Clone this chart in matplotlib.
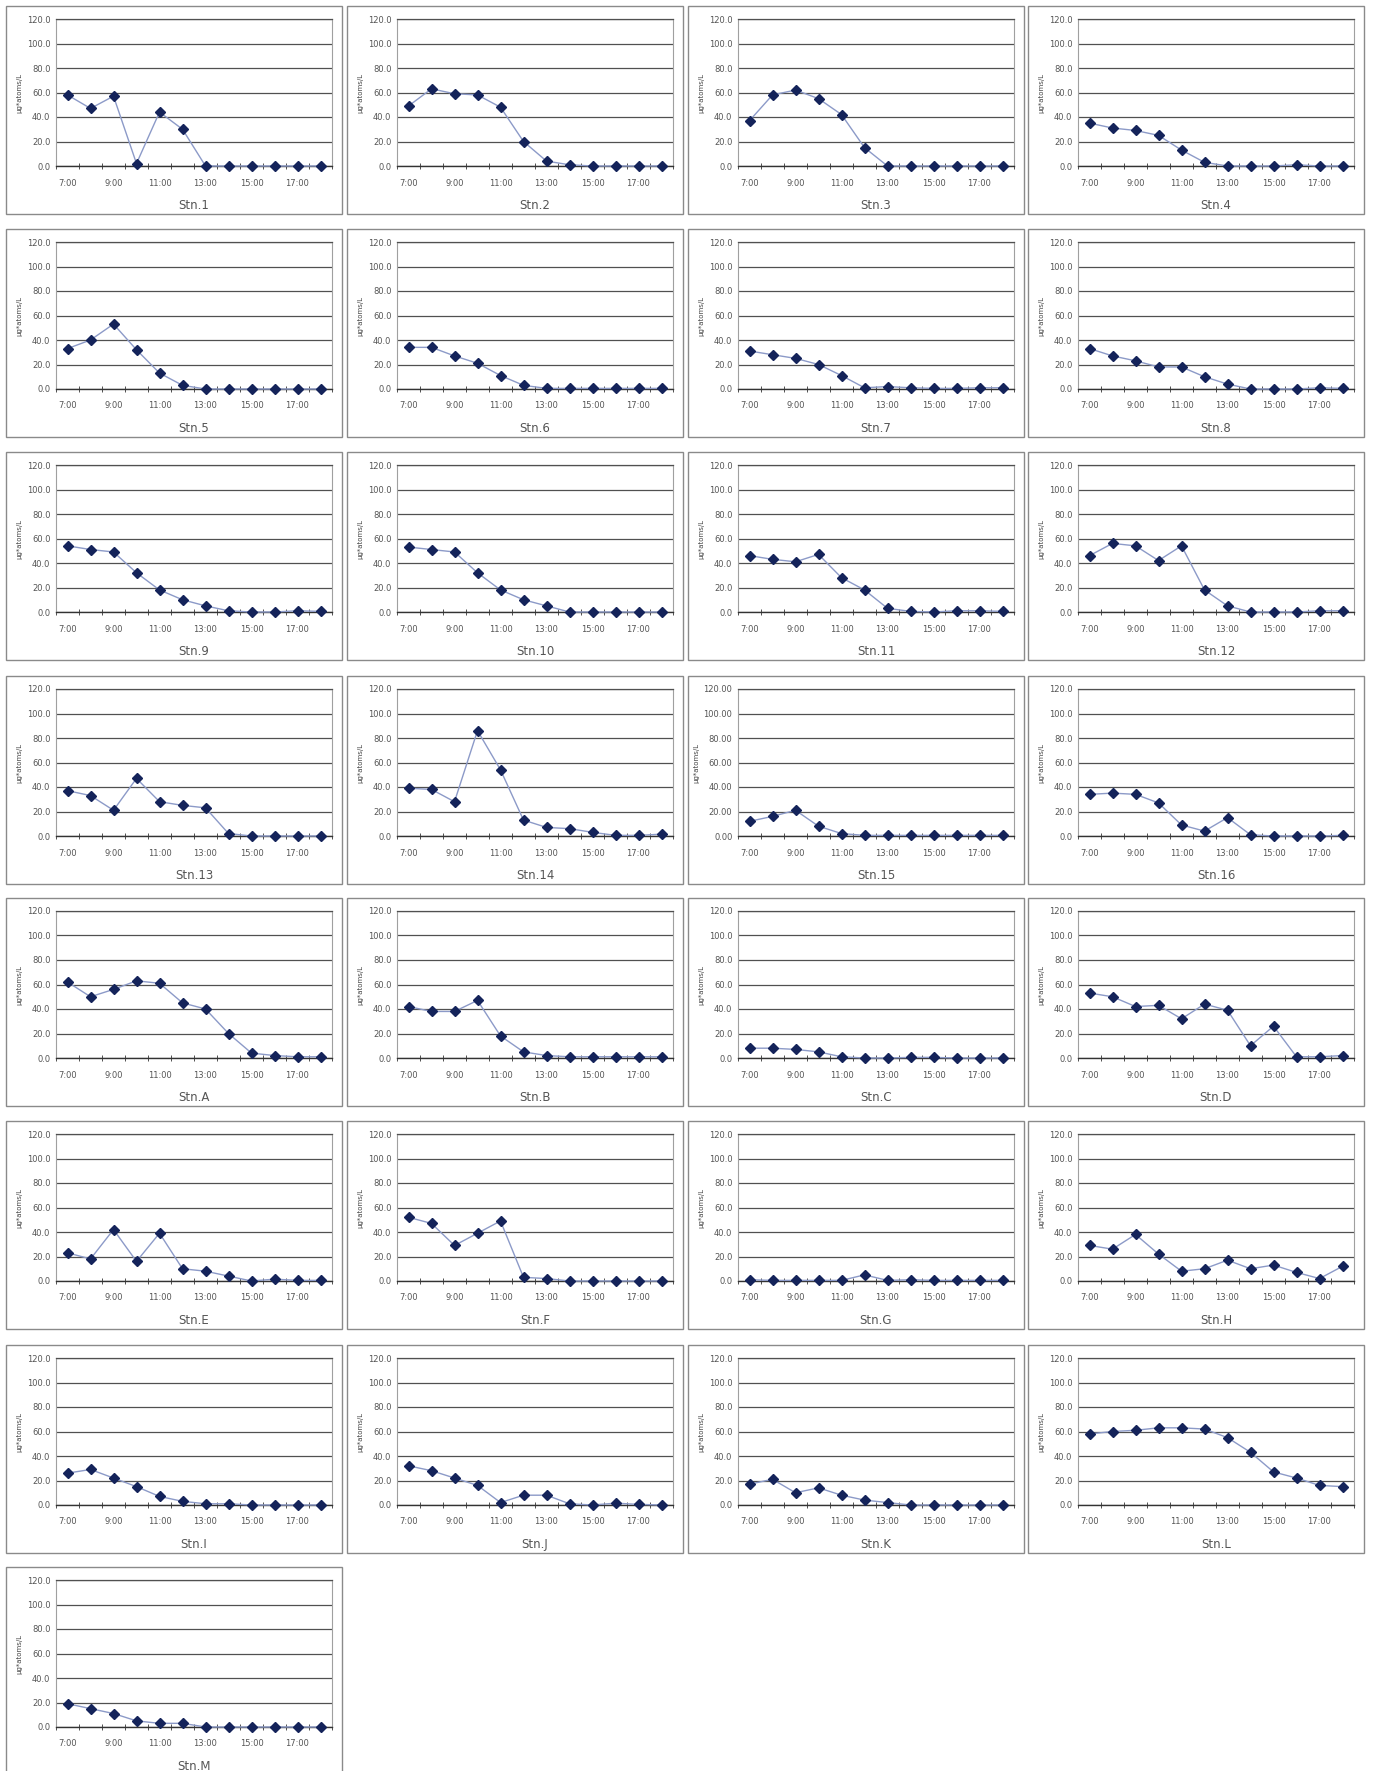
import numpy as np
import matplotlib.pyplot as plt
from matplotlib.patches import Rectangle

# sampling hours 7:00 .. 18:00
hours = ['7:00', '8:00', '9:00', '10:00', '11:00', '12:00',
         '13:00', '14:00', '15:00', '16:00', '17:00', '18:00']

stations = ['Stn.1', 'Stn.2', 'Stn.3', 'Stn.4',
            'Stn.5', 'Stn.6', 'Stn.7', 'Stn.8',
            'Stn.9', 'Stn.10', 'Stn.11', 'Stn.12',
            'Stn.13', 'Stn.14', 'Stn.15', 'Stn.16',
            'Stn.A', 'Stn.B', 'Stn.C', 'Stn.D',
            'Stn.E', 'Stn.F', 'Stn.G', 'Stn.H',
            'Stn.I', 'Stn.J', 'Stn.K', 'Stn.L',
            'Stn.M']

stn_1 = [58, 47, 57, 2, 44, 30, 0, 0, 0, 0, 0, 0]
stn_2 = [49, 63, 59, 58, 48, 20, 4, 1, 0, 0, 0, 0]
stn_3 = [37, 58, 62, 55, 42, 15, 0, 0, 0, 0, 0, 0]
stn_4 = [35, 31, 29, 25, 13, 3, 0, 0, 0, 1, 0, 0]
stn_5 = [33, 40, 53, 32, 13, 3, 0, 0, 0, 0, 0, 0]
stn_6 = [34, 34, 27, 21, 11, 3, 0.5, 0.5, 0.5, 0.5, 0.5, 0.5]
stn_7 = [31, 28, 25, 20, 11, 1, 2, 1, 0.5, 0.5, 1, 1]
stn_8 = [33, 27, 23, 18, 18, 10, 4, 0, 0, 0, 1, 0.5]
stn_9 = [54, 51, 49, 32, 18, 10, 5, 1, 0, 0, 1, 0.5]
stn_10 = [53, 51, 49, 32, 18, 10, 5, 0, 0, 0, 0, 0]
stn_11 = [46, 43, 41, 47, 28, 18, 3, 0.5, 0, 1, 1, 0.5]
stn_12 = [46, 56, 54, 42, 54, 18, 5, 0, 0, 0, 1, 1]
stn_13 = [37, 33, 21, 47, 28, 25, 23, 2, 0, 0, 0, 0]
stn_14 = [39, 38, 28, 86, 54, 13, 7, 6, 3, 0.5, 0.5, 1.5]
stn_15 = [12, 16, 21, 8, 2, 0.5, 0.5, 0.5, 0.5, 0.5, 0.5, 0.5]
stn_16 = [34, 35, 34, 27, 9, 4, 15, 1, 0, 0, 0, 0.5]
stn_a = [62, 50, 56, 63, 61, 45, 40, 20, 4, 2, 1, 1]
stn_b = [42, 38, 38, 47, 18, 5, 2, 1, 1, 1, 1, 1]
stn_c = [8, 8, 7, 5, 1, 0, 0, 0.5, 0.5, 0, 0, 0]
stn_d = [53, 50, 42, 43, 32, 44, 39, 10, 26, 1, 1, 2]
stn_e = [23, 18, 42, 16, 39, 10, 8, 4, 0, 1.5, 0.5, 0.5]
stn_f = [52, 47, 29, 39, 49, 3, 2, 0, 0, 0, 0, 0]
stn_g = [1, 0.5, 0.5, 0.5, 0.5, 5, 0.5, 1, 0.5, 0.5, 0.5, 0.5]
stn_h = [29, 26, 38, 22, 8, 10, 17, 10, 13, 7, 2, 12]
stn_i = [26, 29, 22, 15, 7, 3, 1, 1, 0, 0, 0, 0]
stn_j = [32, 28, 22, 16, 2, 8, 8, 1, 0, 1.5, 0.5, 0]
stn_k = [17, 21, 10, 14, 8, 4, 2, 0, 0, 0, 0, 0]
stn_l = [58, 60, 61, 63, 63, 62, 55, 43, 27, 22, 16, 15]
stn_m = [19, 15, 11, 5, 3, 3, 0, 0, 0, 0, 0, 0]

values = [stn_1, stn_2, stn_3, stn_4, stn_5, stn_6, stn_7, stn_8,
          stn_9, stn_10, stn_11, stn_12, stn_13, stn_14, stn_15, stn_16,
          stn_a, stn_b, stn_c, stn_d, stn_e, stn_f, stn_g, stn_h,
          stn_i, stn_j, stn_k, stn_l, stn_m]

yticks = [0, 20, 40, 60, 80, 100, 120]

W, H = 1375, 1771
col_left = [6, 347, 688, 1028]
row_top = [6, 229, 452, 676, 898, 1121, 1345, 1567]
pw, ph = 336, 208

plt.rcParams['font.family'] = ['DejaVu Sans', 'Noto Sans CJK JP']
fig = plt.figure(figsize=(W / 100, H / 100), dpi=100)

x = np.arange(len(hours))

for i, (name, vals) in enumerate(zip(stations, values)):
    pl = col_left[i % 4]
    pt = row_top[i // 4]

    # panel frame
    fig.patches.append(Rectangle((pl / W, 1 - (pt + ph) / H), pw / W, ph / H,
                                 transform=fig.transFigure, fill=False,
                                 edgecolor='#8a8a8a', linewidth=1.0))

    ax_l = pl + 50
    ax_r = pl + pw - 10
    ax_t = pt + 13
    ax_b = pt + ph - 48
    ax = fig.add_axes([ax_l / W, 1 - ax_b / H, (ax_r - ax_l) / W, (ax_b - ax_t) / H])

    ax.plot(x, vals, color='#8c9ac8', linewidth=1.0, marker='D',
            markersize=5, markerfacecolor='#14235a', markeredgecolor='#14235a',
            zorder=3, clip_on=False)

    ax.set_xlim(-0.5, 11.5)
    ax.set_ylim(0, 120)
    ax.set_yticks(yticks)
    fmt = '{:.2f}' if name == 'Stn.15' else '{:.1f}'
    ax.set_yticklabels([fmt.format(v) for v in yticks])
    ax.yaxis.grid(True, color='#505050', linewidth=0.9)
    ax.set_axisbelow(True)

    ax.set_xticks(x[::2])
    ax.set_xticklabels(hours[::2])
    ax.set_xticks(np.arange(-0.5, 12, 1), minor=True)
    ax.tick_params(axis='x', which='major', length=0, labelsize=6, pad=9,
                   colors='#555555')
    ax.tick_params(axis='x', which='minor', length=4, direction='inout',
                   color='#333333')
    ax.tick_params(axis='y', length=0, labelsize=6, colors='#555555', pad=4)

    for s in ['right', 'left']:
        ax.spines[s].set_color('#a0a0a0')
        ax.spines[s].set_linewidth(0.8)
    ax.spines['top'].set_color('#505050')
    ax.spines['top'].set_linewidth(0.9)
    ax.spines['bottom'].set_color('#333333')
    ax.spines['bottom'].set_linewidth(1.0)

    ax.set_ylabel('μg*atoms/L', fontsize=5, color='#444444', labelpad=3)
    ax.set_xlabel(name, fontsize=8.5, color='#555555', labelpad=8)

fig.savefig('out.png', dpi=100, facecolor='white')
